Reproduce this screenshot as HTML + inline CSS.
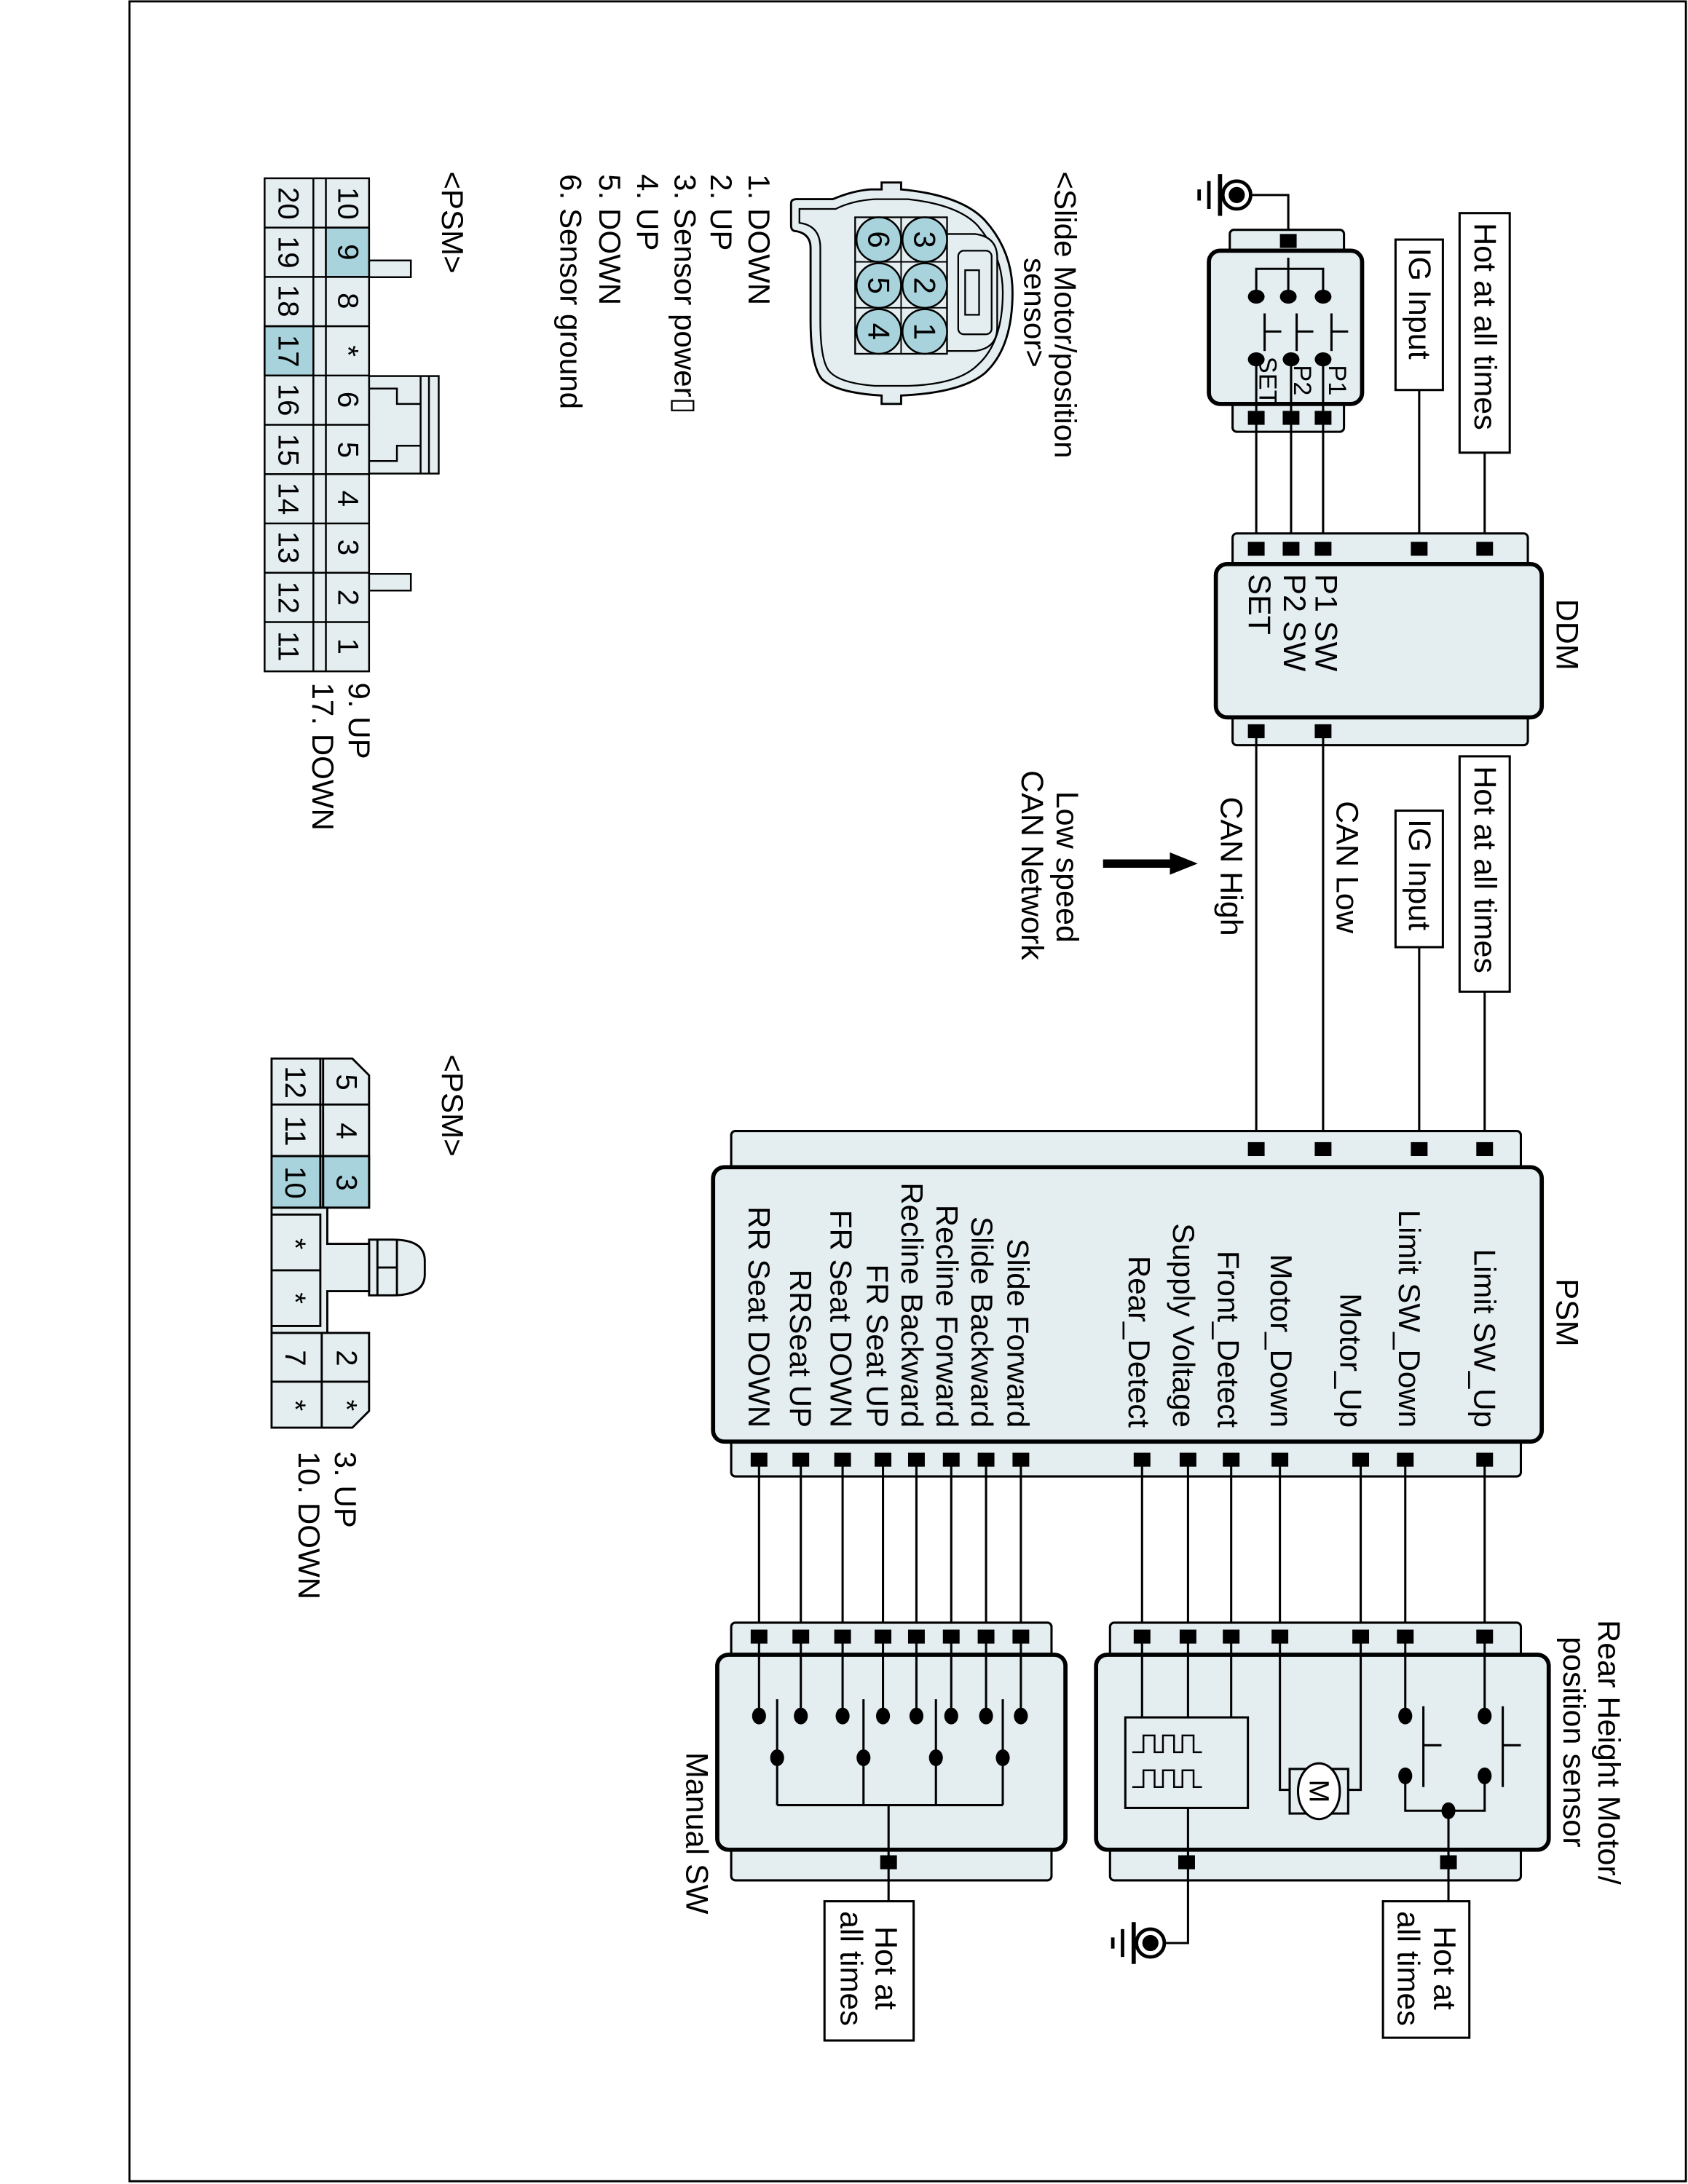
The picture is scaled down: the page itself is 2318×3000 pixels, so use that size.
<!DOCTYPE html>
<html><head><meta charset="utf-8"><style>
html,body{margin:0;padding:0;background:#fff}
svg{display:block}
text{font-family:"Liberation Sans",Arial,sans-serif;fill:#000}
</style></head><body>
<svg width="2318" height="3000" viewBox="0 0 1212 1568" preserveAspectRatio="none" xmlns="http://www.w3.org/2000/svg">
<defs>
<g id="pin"><rect x="-6" y="-5" width="12" height="10" fill="#000"/></g>
</defs>
<rect x="0" y="0" width="1212" height="1568" fill="#fff"/>
<rect x="93" y="1" width="1117.5" height="1565" fill="none" stroke="#000" stroke-width="1.5"/>

<g stroke="#000" fill="none" stroke-width="1.6">
<circle cx="888" cy="140" r="10" stroke-width="2.5"/>
<circle cx="888" cy="140" r="5" fill="#000"/>
<line x1="876" y1="125" x2="876" y2="155" stroke-width="3"/>
<line x1="868" y1="130" x2="868" y2="150" stroke-width="2.5"/>
<line x1="861" y1="136" x2="861" y2="144" stroke-width="2.5"/>
<polyline points="898,140 925,140 925,172"/>
<rect x="883" y="165" width="82" height="20" rx="3" fill="#e4eef0"/>
<rect x="885" y="285" width="80" height="25" rx="3" fill="#e4eef0"/>
<rect x="868" y="180" width="110" height="110" rx="8" fill="#e4eef0" stroke-width="3"/>
<polyline points="902,213 902,193 950,193 950,213"/>
<line x1="925" y1="185" x2="925" y2="213"/>
<line x1="908" y1="225" x2="908" y2="252"/><line x1="908" y1="238" x2="920" y2="238"/>
<line x1="931" y1="225" x2="931" y2="252"/><line x1="931" y1="238" x2="943" y2="238"/>
<line x1="956" y1="225" x2="956" y2="252"/><line x1="956" y1="238" x2="968" y2="238"/>
<line x1="902" y1="258" x2="902" y2="300"/><line x1="927" y1="258" x2="927" y2="300"/><line x1="950" y1="258" x2="950" y2="300"/>
<line x1="902" y1="300" x2="902" y2="394"/><line x1="927" y1="300" x2="927" y2="394"/><line x1="950" y1="300" x2="950" y2="394"/>
<line x1="1066" y1="325" x2="1066" y2="394"/><line x1="1019" y1="280" x2="1019" y2="394"/>
<rect x="1048" y="153" width="36" height="172" fill="#fff"/>
<rect x="1002" y="172" width="34" height="108" fill="#fff"/>

<rect x="885" y="383" width="212" height="28" rx="3" fill="#e4eef0"/>
<rect x="885" y="508" width="212" height="27" rx="3" fill="#e4eef0"/>
<rect x="873" y="405" width="234" height="110" rx="8" fill="#e4eef0" stroke-width="3"/>
<line x1="902" y1="525" x2="902" y2="825"/><line x1="950" y1="525" x2="950" y2="825"/>
<line x1="1066" y1="712" x2="1066" y2="825"/><line x1="1019" y1="680" x2="1019" y2="825"/>
<rect x="1048" y="543" width="36" height="169" fill="#fff"/>
<rect x="1002" y="582" width="34" height="98" fill="#fff"/>

<rect x="525" y="812" width="567" height="32" rx="3" fill="#e4eef0"/>
<rect x="525" y="1028" width="567" height="32" rx="3" fill="#e4eef0"/>
<rect x="512" y="838" width="595" height="197" rx="8" fill="#e4eef0" stroke-width="3"/>
<g>
<line x1="545" y1="1048" x2="545" y2="1232"/><line x1="575" y1="1048" x2="575" y2="1232"/>
<line x1="605" y1="1048" x2="605" y2="1232"/><line x1="634" y1="1048" x2="634" y2="1232"/>
<line x1="658" y1="1048" x2="658" y2="1232"/><line x1="683" y1="1048" x2="683" y2="1232"/>
<line x1="708" y1="1048" x2="708" y2="1232"/><line x1="733" y1="1048" x2="733" y2="1232"/>
<line x1="820" y1="1048" x2="820" y2="1233"/><line x1="853" y1="1048" x2="853" y2="1233"/>
<line x1="884" y1="1048" x2="884" y2="1233"/><line x1="919" y1="1048" x2="919" y2="1175"/>
<line x1="977" y1="1048" x2="977" y2="1175"/><line x1="1009" y1="1048" x2="1009" y2="1232"/>
<line x1="1066" y1="1048" x2="1066" y2="1232"/>
</g>

<rect x="797" y="1165" width="295" height="28" rx="3" fill="#e4eef0"/>
<rect x="797" y="1322" width="295" height="28" rx="3" fill="#e4eef0"/>
<rect x="787" y="1188" width="325" height="140" rx="8" fill="#e4eef0" stroke-width="3"/>
<line x1="820" y1="1175" x2="820" y2="1233"/><line x1="853" y1="1175" x2="853" y2="1233"/><line x1="884" y1="1175" x2="884" y2="1233"/>
<line x1="1009" y1="1175" x2="1009" y2="1232"/><line x1="1066" y1="1175" x2="1066" y2="1232"/>
<rect x="808" y="1233" width="88" height="65" fill="#e4eef0"/>
<path d="M813,1258 h8 v-12 h8 v12 h6 v-12 h8 v12 h6 v-12 h8 v12 h6" stroke-width="1.3"/>
<path d="M813,1283 h8 v-12 h8 v12 h6 v-12 h8 v12 h6 v-12 h8 v12 h6" stroke-width="1.3"/>
<polyline points="919,1175 919,1285 926,1285"/>
<polyline points="977,1175 977,1285 968,1285"/>
<rect x="926" y="1270" width="42" height="32" fill="#e4eef0"/>
<ellipse cx="947" cy="1286" rx="15" ry="20" fill="#fff"/>
<line x1="1022" y1="1225" x2="1022" y2="1283"/><line x1="1022" y1="1253" x2="1035" y2="1253"/>
<line x1="1079" y1="1225" x2="1079" y2="1283"/><line x1="1079" y1="1253" x2="1092" y2="1253"/>
<polyline points="1009,1275 1009,1300 1066,1300 1066,1275"/>
<line x1="1040" y1="1300" x2="1040" y2="1365"/>
<polyline points="853,1298 853,1395 836,1395"/>
<circle cx="826" cy="1395" r="10" stroke-width="2.5"/>
<circle cx="826" cy="1395" r="5" fill="#000"/>
<line x1="814" y1="1380" x2="814" y2="1410" stroke-width="3"/>
<line x1="806" y1="1385" x2="806" y2="1405" stroke-width="2.5"/>
<line x1="799" y1="1391" x2="799" y2="1399" stroke-width="2.5"/>
<rect x="993" y="1365" width="62" height="98" fill="#fff"/>

<rect x="525" y="1165" width="230" height="28" rx="3" fill="#e4eef0"/>
<rect x="525" y="1322" width="230" height="28" rx="3" fill="#e4eef0"/>
<rect x="515" y="1188" width="250" height="140" rx="8" fill="#e4eef0" stroke-width="3"/>
<line x1="545" y1="1175" x2="545" y2="1232"/><line x1="575" y1="1175" x2="575" y2="1232"/>
<line x1="605" y1="1175" x2="605" y2="1232"/><line x1="634" y1="1175" x2="634" y2="1232"/>
<line x1="658" y1="1175" x2="658" y2="1232"/><line x1="683" y1="1175" x2="683" y2="1232"/>
<line x1="708" y1="1175" x2="708" y2="1232"/><line x1="733" y1="1175" x2="733" y2="1232"/>
<line x1="558" y1="1220" x2="558" y2="1296"/><line x1="620" y1="1220" x2="620" y2="1296"/>
<line x1="672" y1="1220" x2="672" y2="1296"/><line x1="720" y1="1220" x2="720" y2="1296"/>
<line x1="558" y1="1296" x2="720" y2="1296"/>
<line x1="638" y1="1296" x2="638" y2="1365"/>
<rect x="592" y="1365" width="64" height="100" fill="#fff"/>
</g>

<g fill="#000">
<use href="#pin" x="925" y="173"/>
<use href="#pin" x="902" y="300"/><use href="#pin" x="927" y="300"/><use href="#pin" x="950" y="300"/>
<use href="#pin" x="902" y="394"/><use href="#pin" x="927" y="394"/><use href="#pin" x="950" y="394"/><use href="#pin" x="1019" y="394"/><use href="#pin" x="1066" y="394"/>
<use href="#pin" x="902" y="525"/><use href="#pin" x="950" y="525"/>
<use href="#pin" x="902" y="825"/><use href="#pin" x="950" y="825"/><use href="#pin" x="1019" y="825"/><use href="#pin" x="1066" y="825"/>
<use href="#pin" x="545" y="1048"/><use href="#pin" x="575" y="1048"/><use href="#pin" x="605" y="1048"/><use href="#pin" x="634" y="1048"/><use href="#pin" x="658" y="1048"/><use href="#pin" x="683" y="1048"/><use href="#pin" x="708" y="1048"/><use href="#pin" x="733" y="1048"/>
<use href="#pin" x="820" y="1048"/><use href="#pin" x="853" y="1048"/><use href="#pin" x="884" y="1048"/><use href="#pin" x="919" y="1048"/><use href="#pin" x="977" y="1048"/><use href="#pin" x="1009" y="1048"/><use href="#pin" x="1066" y="1048"/>
<use href="#pin" x="820" y="1175"/><use href="#pin" x="853" y="1175"/><use href="#pin" x="884" y="1175"/><use href="#pin" x="919" y="1175"/><use href="#pin" x="977" y="1175"/><use href="#pin" x="1009" y="1175"/><use href="#pin" x="1066" y="1175"/>
<use href="#pin" x="852" y="1337"/><use href="#pin" x="1040" y="1337"/>
<use href="#pin" x="545" y="1175"/><use href="#pin" x="575" y="1175"/><use href="#pin" x="605" y="1175"/><use href="#pin" x="634" y="1175"/><use href="#pin" x="658" y="1175"/><use href="#pin" x="683" y="1175"/><use href="#pin" x="708" y="1175"/><use href="#pin" x="733" y="1175"/>
<use href="#pin" x="638" y="1337"/>
<ellipse cx="902" cy="213" rx="6" ry="5"/><ellipse cx="925" cy="213" rx="6" ry="5"/><ellipse cx="950" cy="213" rx="6" ry="5"/>
<ellipse cx="902" cy="258" rx="6" ry="5"/><ellipse cx="927" cy="258" rx="6" ry="5"/><ellipse cx="950" cy="258" rx="6" ry="5"/>
<ellipse cx="1009" cy="1232" rx="5" ry="6"/><ellipse cx="1066" cy="1232" rx="5" ry="6"/>
<ellipse cx="1009" cy="1275" rx="5" ry="6"/><ellipse cx="1066" cy="1275" rx="5" ry="6"/>
<ellipse cx="1040" cy="1300" rx="5" ry="6"/>
<ellipse cx="545" cy="1232" rx="5" ry="6"/><ellipse cx="575" cy="1232" rx="5" ry="6"/><ellipse cx="605" cy="1232" rx="5" ry="6"/><ellipse cx="634" cy="1232" rx="5" ry="6"/>
<ellipse cx="658" cy="1232" rx="5" ry="6"/><ellipse cx="683" cy="1232" rx="5" ry="6"/><ellipse cx="708" cy="1232" rx="5" ry="6"/><ellipse cx="733" cy="1232" rx="5" ry="6"/>
<ellipse cx="558" cy="1262" rx="5" ry="6"/><ellipse cx="620" cy="1262" rx="5" ry="6"/><ellipse cx="672" cy="1262" rx="5" ry="6"/><ellipse cx="720" cy="1262" rx="5" ry="6"/>
</g>

<line x1="792" y1="620" x2="842" y2="620" stroke="#000" stroke-width="6"/>
<polygon points="840,612 860,620 840,628" fill="#000"/>

<g font-size="22.5" dominant-baseline="central">
<text transform="translate(1066,160) rotate(90)">Hot at all times</text>
<text transform="translate(1019,178) rotate(90)">IG Input</text>
<text transform="translate(1066,550) rotate(90)">Hot at all times</text>
<text transform="translate(1019,588) rotate(90)">IG Input</text>
<text transform="translate(1125,430) rotate(90)">DDM</text>
<text transform="translate(952,412) rotate(90)">P1 SW</text>
<text transform="translate(929,412) rotate(90)">P2 SW</text>
<text transform="translate(904,412) rotate(90)">SET</text>
<text transform="translate(967,575) rotate(90)">CAN Low</text>
<text transform="translate(884,572) rotate(90)">CAN High</text>
<text transform="translate(766,568) rotate(90)">Low speed</text>
<text transform="translate(741,553) rotate(90)">CAN Network</text>
<text transform="translate(1125,918) rotate(90)">PSM</text>
</g>
<g font-size="18" dominant-baseline="central">
<text transform="translate(960,262) rotate(90)">P1</text>
<text transform="translate(935,262) rotate(90)">P2</text>
<text transform="translate(910,256) rotate(90)">SET</text>
</g>
<g font-size="22" dominant-baseline="central" text-anchor="end">
<text transform="translate(1066,1025) rotate(90)">Limit SW_Up</text>
<text transform="translate(1012,1025) rotate(90)">Limit SW_Down</text>
<text transform="translate(970,1025) rotate(90)">Motor_Up</text>
<text transform="translate(920,1025) rotate(90)">Motor_Down</text>
<text transform="translate(882,1025) rotate(90)">Front_Detect</text>
<text transform="translate(850,1025) rotate(90)">Supply Voltage</text>
<text transform="translate(818,1025) rotate(90)">Rear_Detect</text>
<text transform="translate(731,1025) rotate(90)">Slide Forward</text>
<text transform="translate(705,1025) rotate(90)">Slide Backward</text>
<text transform="translate(680,1025) rotate(90)">Recline Forward</text>
<text transform="translate(655,1025) rotate(90)">Recline Backward</text>
<text transform="translate(630,1025) rotate(90)">FR Seat UP</text>
<text transform="translate(604,1025) rotate(90)">FR Seat DOWN</text>
<text transform="translate(575,1025) rotate(90)">RRSeat UP</text>
<text transform="translate(545,1025) rotate(90)">RR Seat DOWN</text>
</g>
<g font-size="22.5" dominant-baseline="central">
<text transform="translate(1155,1163) rotate(90)">Rear Height Motor/</text>
<text transform="translate(1130,1175) rotate(90)">position sensor</text>
<text transform="translate(500,1258) rotate(90)">Manual SW</text>
<text transform="translate(1037,1383) rotate(90)">Hot at</text>
<text transform="translate(1011,1372) rotate(90)">all times</text>
<text transform="translate(636,1383) rotate(90)">Hot at</text>
<text transform="translate(611,1372) rotate(90)">all times</text>
<text font-size="20" text-anchor="middle" transform="translate(947,1286) rotate(90)">M</text>
</g>

<path d="M568,146 Q568,143 572,143 L598,143 Q612,137 625,136 L633,136 L633,131 L647,131 L647,136 Q690,140 707,158 Q727,180 727,210 Q727,250 707,268 Q690,282 647,284 L647,290 L633,290 L633,284 Q600,282 590,272 Q582,262 582,230 L582,178 Q582,168 572,166 Q568,166 568,162 Z" fill="#e4eef0" stroke="#000" stroke-width="1.5"/>
<path d="M574,150 L600,150 Q612,144 628,143 L652,143 Q688,147 702,162 Q720,183 720,210 Q720,246 702,262 Q688,276 652,277 L628,277 Q602,275 595,266 Q589,258 589,230 L589,178 Q589,162 574,160 Z" fill="none" stroke="#000" stroke-width="1.2"/>
<rect x="614" y="156" width="66" height="98" fill="#e4eef0" stroke="#000" stroke-width="1.2"/>
<line x1="647" y1="156" x2="647" y2="254" stroke="#000" stroke-width="1"/>
<line x1="614" y1="188" x2="680" y2="188" stroke="#000" stroke-width="1"/>
<line x1="614" y1="221" x2="680" y2="221" stroke="#000" stroke-width="1"/>
<path d="M680,168 L700,168 Q716,170 716,185 L716,235 Q716,250 700,252 L680,252 Z" fill="#e4eef0" stroke="#000" stroke-width="1.2"/>
<rect x="688" y="180" width="24" height="60" rx="4" fill="#e4eef0" stroke="#000" stroke-width="1.2"/>
<rect x="693" y="194" width="10" height="32" fill="#e4eef0" stroke="#000" stroke-width="1.2"/>
<g fill="#a8d2dc" stroke="#000" stroke-width="1.3">
<circle cx="664" cy="172" r="16"/><circle cx="664" cy="205" r="16"/><circle cx="664" cy="238" r="16"/>
<circle cx="631" cy="172" r="16"/><circle cx="631" cy="205" r="16"/><circle cx="631" cy="238" r="16"/>
</g>
<g font-size="22" dominant-baseline="central" text-anchor="middle">
<text transform="translate(664,172) rotate(90)">3</text><text transform="translate(664,205) rotate(90)">2</text><text transform="translate(664,238) rotate(90)">1</text>
<text transform="translate(631,172) rotate(90)">6</text><text transform="translate(631,205) rotate(90)">5</text><text transform="translate(631,238) rotate(90)">4</text>
</g>
<g font-size="22" dominant-baseline="central">
<text transform="translate(765,123) rotate(90)">&lt;Slide Motor/position</text>
<text transform="translate(743,185) rotate(90)">sensor&gt;</text>
<text transform="translate(545,125) rotate(90)">1. DOWN</text>
<text transform="translate(518,125) rotate(90)">2. UP</text>
<text transform="translate(492,125) rotate(90)">3. Sensor power▯</text>
<text transform="translate(465,125) rotate(90)">4. UP</text>
<text transform="translate(438,125) rotate(90)">5. DOWN</text>
<text transform="translate(410,125) rotate(90)">6. Sensor ground</text>
<text transform="translate(325,123) rotate(90)">&lt;PSM&gt;</text>
<text transform="translate(258,490) rotate(90)">9. UP</text>
<text transform="translate(232,490) rotate(90)">17. DOWN</text>
<text transform="translate(325,757) rotate(90)">&lt;PSM&gt;</text>
<text transform="translate(248,1042) rotate(90)">3. UP</text>
<text transform="translate(222,1042) rotate(90)">10. DOWN</text>
</g>

<g stroke="#000" stroke-width="1.3">
<rect x="265" y="187" width="30" height="12" fill="#e4eef0"/>
<rect x="265" y="412" width="30" height="12" fill="#e4eef0"/>
<rect x="265" y="270" width="50" height="70" fill="#e4eef0"/>
<line x1="308" y1="270" x2="308" y2="340"/><line x1="302" y1="270" x2="302" y2="340"/>
<polyline points="265,279 285,279 285,290 302,290" fill="none"/>
<polyline points="265,331 285,331 285,320 302,320" fill="none"/>
<rect x="190" y="128" width="75" height="354" fill="#e4eef0"/>
<line x1="225" y1="128" x2="225" y2="482"/><line x1="234" y1="128" x2="234" y2="482"/>
<rect x="234" y="163.4" width="31" height="35.4" fill="#a8d2dc"/>
<rect x="190" y="234.2" width="35" height="35.4" fill="#a8d2dc"/>
<line x1="190" y1="163.4" x2="265" y2="163.4"/><line x1="190" y1="198.8" x2="265" y2="198.8"/>
<line x1="190" y1="234.2" x2="265" y2="234.2"/><line x1="190" y1="269.6" x2="265" y2="269.6"/>
<line x1="190" y1="305" x2="265" y2="305"/><line x1="190" y1="340.4" x2="265" y2="340.4"/>
<line x1="190" y1="375.8" x2="265" y2="375.8"/><line x1="190" y1="411.2" x2="265" y2="411.2"/>
<line x1="190" y1="446.6" x2="265" y2="446.6"/>
</g>
<g font-size="21" dominant-baseline="central" text-anchor="middle">
<text transform="translate(250,146) rotate(90)">10</text><text transform="translate(250,181) rotate(90)">9</text>
<text transform="translate(250,216) rotate(90)">8</text><text transform="translate(250,252) rotate(90)">*</text>
<text transform="translate(250,287) rotate(90)">6</text><text transform="translate(250,323) rotate(90)">5</text>
<text transform="translate(250,358) rotate(90)">4</text><text transform="translate(250,393) rotate(90)">3</text>
<text transform="translate(250,429) rotate(90)">2</text><text transform="translate(250,464) rotate(90)">1</text>
<text transform="translate(207,146) rotate(90)">20</text><text transform="translate(207,181) rotate(90)">19</text>
<text transform="translate(207,216) rotate(90)">18</text><text transform="translate(207,252) rotate(90)">17</text>
<text transform="translate(207,287) rotate(90)">16</text><text transform="translate(207,323) rotate(90)">15</text>
<text transform="translate(207,358) rotate(90)">14</text><text transform="translate(207,393) rotate(90)">13</text>
<text transform="translate(207,429) rotate(90)">12</text><text transform="translate(207,464) rotate(90)">11</text>
</g>

<g stroke="#000" stroke-width="1.5">
<path d="M265,890 L282,890 Q305,890 305,905 L305,915 Q305,930 282,930 L265,930 Z" fill="#e4eef0"/>
<line x1="285" y1="890" x2="285" y2="930"/><line x1="271" y1="890" x2="271" y2="930"/><line x1="271" y1="910" x2="285" y2="910"/>
<path d="M235,867 L235,893 L265,893 L265,927 L235,927 L235,957 L195,957 L195,867 Z" fill="#e4eef0"/>
<path d="M195,760 L253,760 L265,772 L265,867 L195,867 Z" fill="#e4eef0"/>
<path d="M195,957 L265,957 L265,1013 L253,1025 L195,1025 Z" fill="#e4eef0"/>
<rect x="232" y="830" width="33" height="37" fill="#a8d2dc"/>
<rect x="195" y="830" width="35" height="37" fill="#a8d2dc"/>
<rect x="195" y="872" width="35" height="80" fill="#e4eef0"/>
<line x1="195" y1="912" x2="230" y2="912"/>
<line x1="230" y1="760" x2="230" y2="867"/><line x1="232" y1="760" x2="232" y2="867"/>
<line x1="195" y1="793" x2="265" y2="793"/><line x1="195" y1="830" x2="265" y2="830"/>
<line x1="231" y1="957" x2="231" y2="1025"/><line x1="195" y1="992" x2="265" y2="992"/>
</g>
<g font-size="21" dominant-baseline="central" text-anchor="middle">
<text transform="translate(249,777) rotate(90)">5</text><text transform="translate(249,812) rotate(90)">4</text><text transform="translate(249,849) rotate(90)">3</text>
<text transform="translate(212,777) rotate(90)">12</text><text transform="translate(212,812) rotate(90)">11</text><text transform="translate(212,849) rotate(90)">10</text>
<text transform="translate(212,893) rotate(90)">*</text><text transform="translate(212,932) rotate(90)">*</text>
<text transform="translate(249,975) rotate(90)">2</text><text transform="translate(249,1009) rotate(90)">*</text>
<text transform="translate(212,975) rotate(90)">7</text><text transform="translate(212,1009) rotate(90)">*</text>
</g>
</svg>
</body></html>
